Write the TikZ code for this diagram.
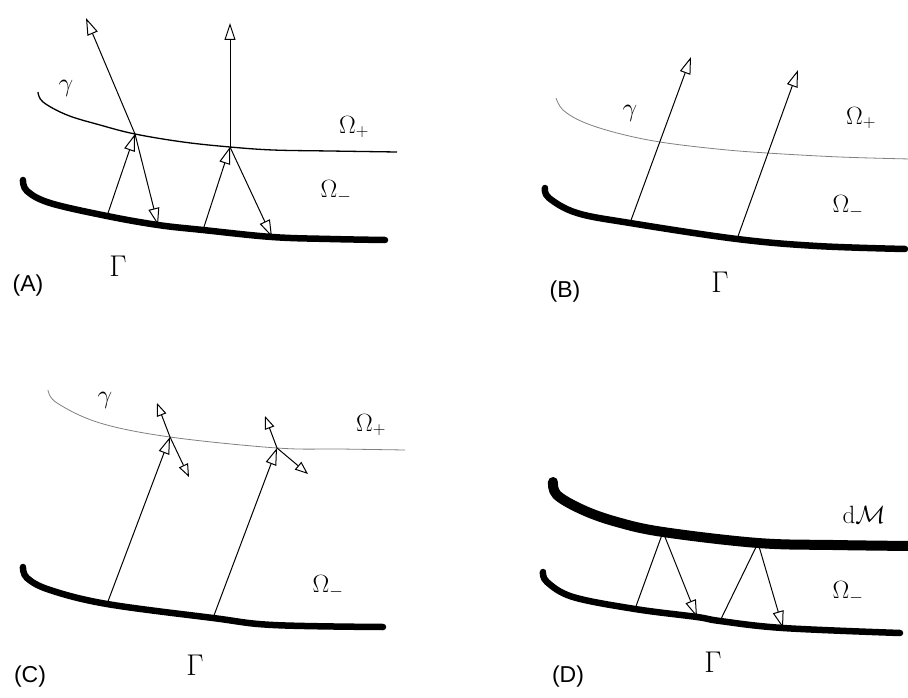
\RequirePackage{fix-cm}
\documentclass[tikz,border=0pt]{standalone}
\usepackage{fontspec}
\newfontfamily\lblfont{Liberation Sans}
\usetikzlibrary{arrows.meta}
\tikzset{
  bdry/.style={line width=6.5pt, line cap=round, line join=round},
  bdryM/.style={line width=10pt, line cap=round, line join=round},
  gam/.style={line width=1.3pt},
  gamthin/.style={line width=0.8pt, black!50},
  ray/.style={line width=1pt},
  tipA/.style={-{Triangle[open,length=17pt,width=11pt,line width=1pt]}},
  tipC/.style={-{Triangle[open,length=13pt,width=10pt,line width=1pt]}},
  lab/.style={inner sep=0pt, font=\fontsize{25}{30}\selectfont},
  glab/.style={inner sep=0pt, font=\fontsize{26}{30}\selectfont},
  Glab/.style={inner sep=0pt, font=\fontsize{30}{34}\selectfont},
  plab/.style={inner sep=0pt, font=\lblfont\fontsize{23}{27}\selectfont},
}
\begin{document}
\begin{tikzpicture}[x=1pt,y=-1pt]
\path[use as bounding box] (0,0) rectangle (908,698);

% ---------------- Panel A ----------------
\coordinate (A1) at (135,134);
\coordinate (A2) at (230,147);
\coordinate (A3) at (107,216);
\coordinate (A4) at (158,225);
\coordinate (A5) at (203,230);
\coordinate (A6) at (272,237);
\coordinate (A7) at (86,18);
\coordinate (A8) at (230,23);
\draw[gam] plot[smooth, tension=0.6] coordinates {(38,92) (43,102) (67,115) (100,125) (A1) (183,142) (A2) (273,150) (330,151) (397,152)};
\draw[bdry] plot[smooth, tension=0.6] coordinates {(23,180) (27,191) (50,203) (A3) (A4) (A5) (A6) (330,239) (385,240)};
\draw[ray,tipA] (A3) -- (A1);
\draw[ray,tipA] (A1) -- (A7);
\draw[ray,tipA] (A1) -- (A4);
\draw[ray,tipA] (A5) -- (A2);
\draw[ray,tipA] (A2) -- (A8);
\draw[ray,tipA] (A2) -- (A6);
\node[glab] (gA) at (66,88) {$\gamma$};
\node[lab] (OpA) at (354,127) {$\Omega_+$};
\node[lab] (OmA) at (336,192) {$\Omega_-$};
\node[Glab] (GA) at (118,266) {$\Gamma$};
\node[plab] (labA) at (28,286) {(A)};

% ---------------- Panel B ----------------
\coordinate (B1) at (630,223);
\coordinate (B2) at (737,239);
\coordinate (B3) at (691,57);
\coordinate (B4) at (798,70);
\draw[gamthin] plot[smooth, tension=0.6] coordinates {(556,98) (563,110) (583,122) (617,133) (660,142) (717,149) (767,153) (840,157) (910,159)};
\draw[bdry] plot[smooth, tension=0.6] coordinates {(545,188) (549,198) (577,213) (B1) (B2) (817,246) (905,249)};
\draw[ray,tipA] (B1) -- (B3);
\draw[ray,tipA] (B2) -- (B4);
\node[glab] (gB) at (630,113) {$\gamma$};
\node[lab] (OpB) at (861,118) {$\Omega_+$};
\node[lab] (OmB) at (848,207) {$\Omega_-$};
\node[Glab] (GB) at (720,282) {$\Gamma$};
\node[plab] (labB) at (565,292) {(B)};

% ---------------- Panel C ----------------
\coordinate (C1) at (170,437);
\coordinate (C2) at (277,448);
\coordinate (C3) at (107,604);
\coordinate (C4) at (213,618);
\coordinate (C5) at (157,403);
\coordinate (C6) at (189,477);
\coordinate (C7) at (265,416);
\coordinate (C8) at (308,474);
\draw[gamthin] plot[smooth, tension=0.6] coordinates {(48,390) (57,403) (100,423) (C1) (C2) (340,449) (405,450)};
\draw[bdry] plot[smooth, tension=0.6] coordinates {(23,567) (27,578) (50,590) (C3) (C4) (273,625) (383,627)};
\draw[ray,tipA] (C3) -- (C1);
\draw[ray,tipA] (C4) -- (C2);
\draw[ray,tipC] (C1) -- (C5);
\draw[ray,tipC] (C1) -- (C6);
\draw[ray,tipC] (C2) -- (C7);
\draw[ray,tipC] (C2) -- (C8);
\node[glab] (gC) at (105,400) {$\gamma$};
\node[lab] (OpC) at (371,425) {$\Omega_+$};
\node[lab] (OmC) at (328,587) {$\Omega_-$};
\node[Glab] (GC) at (195,665) {$\Gamma$};
\node[plab] (labC) at (30,677) {(C)};

% ---------------- Panel D ----------------
\coordinate (D1) at (663,532);
\coordinate (D2) at (758,543);
\coordinate (D3) at (635,609);
\coordinate (D4) at (697,617);
\coordinate (D5) at (720,621);
\coordinate (D6) at (783,628);
\draw[ray] (D3) -- (D1);
\draw[ray] (D5) -- (D2);
\draw[bdryM] plot[smooth, tension=0.6] coordinates {(553,482) (557,495) (583,510) (617,522) (D1) (D2) (833,545) (912,546)};
\draw[bdry] plot[smooth, tension=0.6] coordinates {(543,572) (547,582) (573,597) (D3) (D4) (D5) (D6) (900,633)};
\draw[ray,tipA] (D1) -- (D4);
\draw[ray,tipA] (D2) -- (D6);
\node[lab] (dM) at (864,515) {$\mathrm{d}\mathcal{M}$};
\node[lab] (OmD) at (848,593) {$\Omega_-$};
\node[Glab] (GD) at (713,662) {$\Gamma$};
\node[plab] (labD) at (568,677) {(D)};
\end{tikzpicture}
\end{document}
